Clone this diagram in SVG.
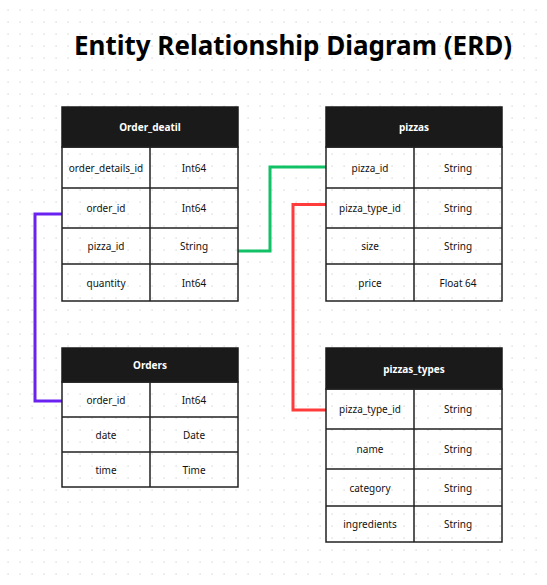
<svg xmlns="http://www.w3.org/2000/svg" width="547" height="585" viewBox="0 0 547 585">
<defs>
<pattern id="dots" x="0" y="0" width="12" height="12" patternUnits="userSpaceOnUse">
<rect x="7.5" y="9.5" width="1.2" height="1.2" fill="#cfcfcf"/>
</pattern>
</defs>
<style>
.hdr{fill:#1a1a1a;stroke:#1a1a1a;stroke-width:1.5}
.cell{fill:none;stroke:#222;stroke-width:1.5}
.ht{font-family:"Noto Sans","Liberation Sans",sans-serif;font-size:10px;font-weight:bold;fill:#fff;text-anchor:middle;dominant-baseline:central}
.t{font-family:"Noto Sans","Liberation Sans",sans-serif;font-size:10px;fill:#111;text-anchor:middle;dominant-baseline:central}
.title{font-family:"Noto Sans","Liberation Sans",sans-serif;font-size:26px;font-weight:bold;fill:#000}
.c{fill:none;stroke-width:3;stroke-linejoin:miter}
</style>
<rect width="547" height="585" fill="#fff"/>
<rect width="547" height="585" fill="url(#dots)"/>
<text class="title" x="74" y="55" textLength="438" lengthAdjust="spacingAndGlyphs">Entity Relationship Diagram (ERD)</text>

<g id="connectors">
<polyline class="c" stroke="#6a22f0" points="62,214 35,214 35,401 62,401"/>
<polyline class="c" stroke="#12c065" points="238,251 270,251 270,167 326,167"/>
<polyline class="c" stroke="#ff3b3b" points="326,204.5 293,204.5 293,410 326,410"/>
</g>

<g id="order_detail">
<rect class="hdr" x="62" y="107" width="176" height="40"/>
<text class="ht" x="150" y="127">Order_deatil</text>
<rect class="cell" x="62" y="147" width="176" height="154" fill="#fff"/>
<path class="cell" d="M150 147V301M62 188H238M62 228H238M62 264H238"/>
<text class="t" x="106" y="167.5">order_details_id</text><text class="t" x="194" y="167.5">Int64</text>
<text class="t" x="106" y="208">order_id</text><text class="t" x="194" y="208">Int64</text>
<text class="t" x="106" y="246">pizza_id</text><text class="t" x="194" y="246">String</text>
<text class="t" x="106" y="282.5">quantity</text><text class="t" x="194" y="282.5">Int64</text>
</g>

<g id="pizzas">
<rect class="hdr" x="326" y="107" width="176" height="40"/>
<text class="ht" x="414" y="127">pizzas</text>
<rect class="cell" x="326" y="147" width="176" height="154"/>
<path class="cell" d="M414 147V301M326 188H502M326 228H502M326 264H502"/>
<text class="t" x="370" y="167.5">pizza_id</text><text class="t" x="458" y="167.5">String</text>
<text class="t" x="370" y="208">pizza_type_id</text><text class="t" x="458" y="208">String</text>
<text class="t" x="370" y="246">size</text><text class="t" x="458" y="246">String</text>
<text class="t" x="370" y="282.5">price</text><text class="t" x="458" y="282.5">Float 64</text>
</g>

<g id="orders">
<rect class="hdr" x="62" y="348" width="176" height="34"/>
<text class="ht" x="150" y="365">Orders</text>
<rect class="cell" x="62" y="382" width="176" height="105"/>
<path class="cell" d="M150 382V487M62 417H238M62 452H238"/>
<text class="t" x="106" y="399.5">order_id</text><text class="t" x="194" y="399.5">Int64</text>
<text class="t" x="106" y="434.5">date</text><text class="t" x="194" y="434.5">Date</text>
<text class="t" x="106" y="469.5">time</text><text class="t" x="194" y="469.5">Time</text>
</g>

<g id="pizzas_types">
<rect class="hdr" x="326" y="348" width="176" height="41"/>
<text class="ht" x="414" y="368.5">pizzas_types</text>
<rect class="cell" x="326" y="389" width="176" height="153"/>
<path class="cell" d="M414 389V542M326 429H502M326 469H502M326 506H502"/>
<text class="t" x="370" y="409">pizza_type_id</text><text class="t" x="458" y="409">String</text>
<text class="t" x="370" y="449">name</text><text class="t" x="458" y="449">String</text>
<text class="t" x="370" y="487.5">category</text><text class="t" x="458" y="487.5">String</text>
<text class="t" x="370" y="524">ingredients</text><text class="t" x="458" y="524">String</text>
</g>
</svg>
